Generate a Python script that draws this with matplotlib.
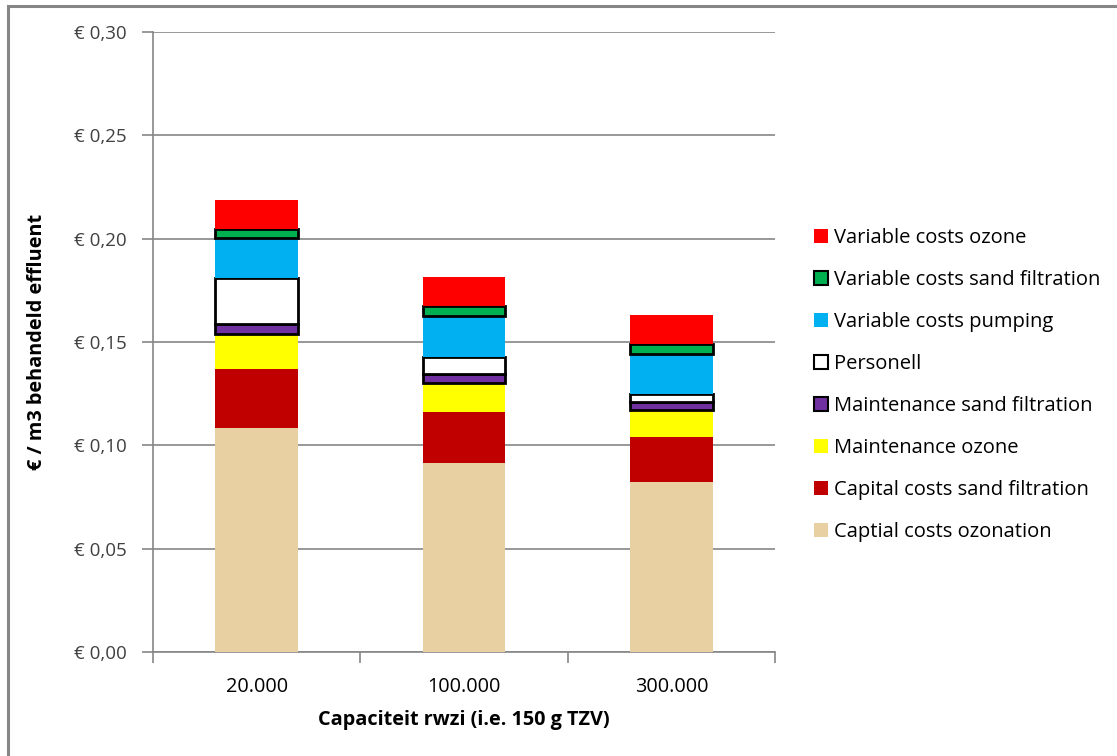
import matplotlib
matplotlib.use("Agg")
import matplotlib.pyplot as plt
from matplotlib.patches import Rectangle, Patch
import numpy as np

plt.rcParams['font.family'] = ['Open Sans', 'DejaVu Sans']

categories = ["20.000", "100.000", "300.000"]
series_names = [
    "Captial costs ozonation",
    "Capital costs sand filtration",
    "Maintenance ozone",
    "Maintenance sand filtration",
    "Personell",
    "Variable costs pumping",
    "Variable costs sand filtration",
    "Variable costs ozone",
]
capital_ozonation = [0.1082, 0.0916, 0.0823]
capital_sand = [0.0285, 0.0245, 0.0217]
maintenance_ozone = [0.0173, 0.0142, 0.0129]
maintenance_sand = [0.0045, 0.0043, 0.0040]
personell = [0.0223, 0.0081, 0.0041]
variable_pumping = [0.0195, 0.0198, 0.0193]
variable_sand = [0.0044, 0.0048, 0.0048]
variable_ozone = [0.0141, 0.0140, 0.0142]
yticks = [0.00, 0.05, 0.10, 0.15, 0.20, 0.25, 0.30]
ytick_labels = ["€ 0,00", "€ 0,05", "€ 0,10", "€ 0,15", "€ 0,20", "€ 0,25", "€ 0,30"]

series_values = [capital_ozonation, capital_sand, maintenance_ozone, maintenance_sand,
                 personell, variable_pumping, variable_sand, variable_ozone]
colors = ["#E8D0A2", "#C00000", "#FFFF00", "#7030A0", "#FFFFFF", "#00B0F0", "#00B050", "#FF0000"]
edged = [False, False, False, True, True, False, True, False]

fig = plt.figure(figsize=(11.17, 7.56), dpi=100)
fig.patches.append(Rectangle((8/1117, -0.05), 1.2, (756-5.5)/756 + 0.05, transform=fig.transFigure,
                             fill=False, edgecolor="#868686", linewidth=2.2, zorder=0))
ax = fig.add_axes([153/1117, (756-652)/756, (775-153)/1117, (652-32)/756])

x = np.arange(len(categories))
bottom = np.zeros(len(categories))
for name, vals, c, e in zip(series_names, series_values, colors, edged):
    ax.bar(x, vals, width=0.40, bottom=bottom, color=c,
           edgecolor="black" if e else "none", linewidth=2.0 if e else 0, label=name, zorder=3)
    bottom += np.array(vals)

ax.set_xlim(-0.5, 2.5)
ax.set_ylim(0, 0.30)
ax.set_yticks(yticks)
ax.set_yticklabels(ytick_labels)
ax.yaxis.grid(True, color="#868686", linewidth=1.2, zorder=0)
ax.set_axisbelow(True)
ax.set_xticks(x)
ax.set_xticklabels(categories)
ax.set_xticks([-0.5, 0.5, 1.5, 2.5], minor=True)
ax.tick_params(axis='x', which='major', length=0, pad=18, labelsize=14.3, colors="#000000")
ax.tick_params(axis='x', which='minor', length=8, color="#868686", width=1.2)
ax.tick_params(axis='y', length=8, color="#868686", width=1.2, pad=11, labelsize=13.5, labelcolor="#404040")
for s in ["top", "right"]:
    ax.spines[s].set_visible(False)
for s in ["left", "bottom"]:
    ax.spines[s].set_color("#868686")
    ax.spines[s].set_linewidth(1.2)

ax.set_xlabel("Capaciteit rwzi (i.e. 150 g TZV)", fontsize=14.3, fontweight="bold", labelpad=9)
ax.set_ylabel("€ / m3 behandeld effluent", fontsize=14.3, fontweight="bold", labelpad=19)

handles = []
for name, c, e in zip(series_names, colors, edged):
    handles.append(Patch(facecolor=c, edgecolor="black" if e else "none", linewidth=1.5 if e else 0, label=name))
handles = handles[::-1]
fig.legend(handles=handles, loc="upper left", bbox_to_anchor=(806/1117, (756-220)/756),
           frameon=False, fontsize=14.5, labelspacing=1.09, handlelength=0.7, handleheight=0.7,
           handletextpad=0.3, borderaxespad=0)

fig.savefig("out.png", dpi=100)
